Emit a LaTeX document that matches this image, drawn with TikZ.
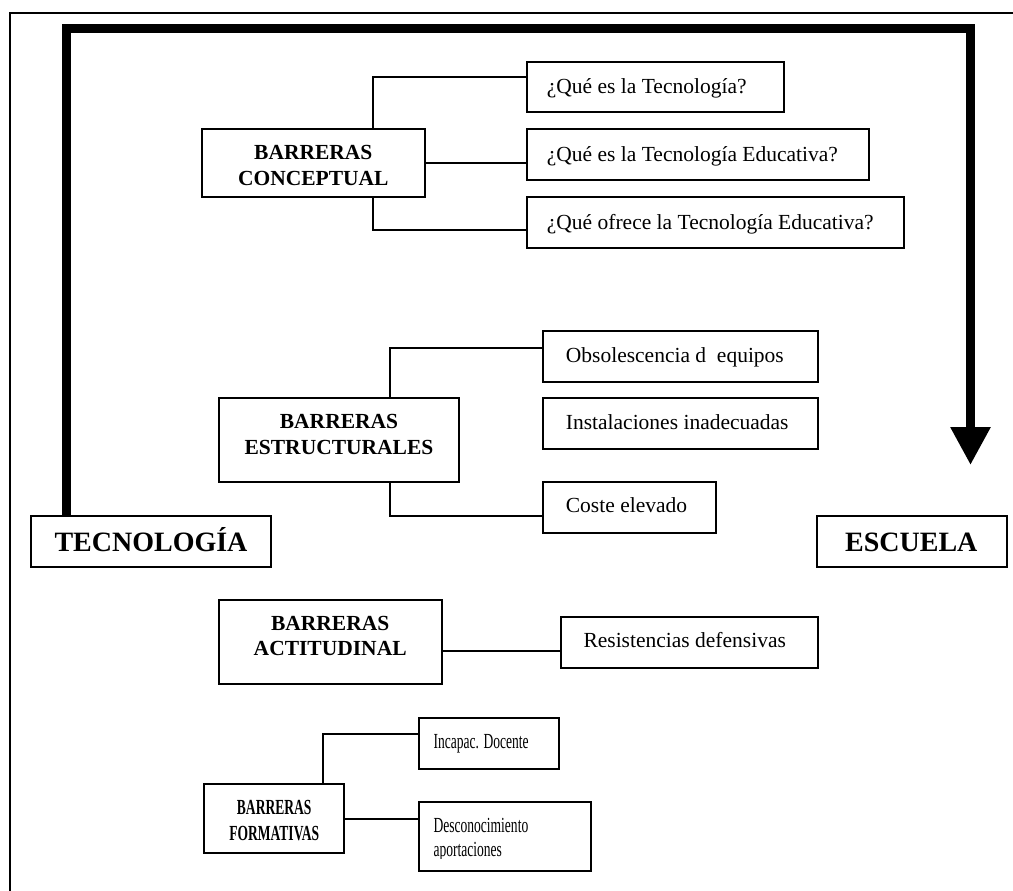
\documentclass[tikz,border=0pt]{standalone}
\usepackage{fontspec}
\setmainfont{Liberation Serif}
\usepackage{graphicx}
\usetikzlibrary{arrows.meta}

\tikzset{
  box/.style={draw, rectangle, line width=1.8pt, inner sep=0pt, outer sep=0pt},
  link/.style={line width=1.8pt},
  body/.style={inner sep=0pt, font=\fontsize{21.5}{24}\selectfont},
  head/.style={inner sep=0pt, align=center, font=\fontsize{21.5}{25.5}\selectfont\bfseries},
  big/.style={inner sep=0pt, font=\fontsize{28}{32}\selectfont\bfseries},
  flow/.style={line width=9pt, line join=miter, -{Triangle[width=38pt,length=38pt]}},
}
\newcommand\narrow[1]{\scalebox{0.63}[1]{#1}}

\begin{document}
\begin{tikzpicture}[x=1pt,y=-1pt]
\useasboundingbox (0,0) rectangle (1013,891);

% outer frame (open at right and bottom)
\draw[line width=2.2pt] (1013,12.7) -- (10,12.7) -- (10,891);

% ---------- boxes ----------
\node[box, minimum width=240pt,   minimum height=51pt]   (tec)  at (151,541.5)   {};
\node[box, minimum width=190pt,   minimum height=51pt]   (esc)  at (911.7,541.5) {};

\node[box, minimum width=223.3pt, minimum height=67.4pt] (conc) at (313.3,163)   {};
\node[box, minimum width=257.3pt, minimum height=50pt]   (qt1)  at (655.3,86.7)  {};
\node[box, minimum width=342.3pt, minimum height=50.7pt] (qt2)  at (698.2,154.7) {};
\node[box, minimum width=377pt,   minimum height=51.6pt] (qt3)  at (715.5,222.5) {};

\node[box, minimum width=240.6pt, minimum height=84.3pt] (estr) at (339,440.2)   {};
\node[box, minimum width=274.7pt, minimum height=50.7pt] (obs)  at (680.3,356.3) {};
\node[box, minimum width=275pt,   minimum height=51pt]   (inst) at (680.5,423.5) {};
\node[box, minimum width=173pt,   minimum height=51pt]   (cost) at (629.5,507.5) {};

\node[box, minimum width=223pt,   minimum height=84pt]   (act)  at (330.2,642)   {};
\node[box, minimum width=256.7pt, minimum height=51pt]   (res)  at (689.3,642.2) {};

\node[box, minimum width=139.7pt, minimum height=69pt]   (form) at (274.2,818.8) {};
\node[box, minimum width=140pt,   minimum height=51pt]   (inc)  at (489.3,743.8) {};
\node[box, minimum width=171.7pt, minimum height=69pt]   (desc) at (505.2,836.2) {};

% ---------- texts (multi-line nodes sit on their last baseline) ----------
\node[big, anchor=base] at (151,551.7)   {TECNOLOGÍA};
\node[big, anchor=base] at (911.3,551.7) {ESCUELA};

\node[head, anchor=base] at (313.3,185) {BARRERAS\\CONCEPTUAL};
\node[body, anchor=base west] at (546.7,93.3)  {¿Qué es la Tecnología?};
\node[body, anchor=base west] at (546.7,161.7) {¿Qué es la Tecnología Educativa?};
\node[body, anchor=base west] at (546.7,229)   {¿Qué ofrece la Tecnología Educativa?};

\node[head, anchor=base] at (339,454) {BARRERAS\\ESTRUCTURALES};
\node[body, anchor=base west] at (565.7,362.3) {Obsolescencia d\ \ equipos};
\node[body, anchor=base west] at (565.7,429)   {Instalaciones inadecuadas};
\node[body, anchor=base west] at (565.7,512.7) {Coste elevado};

\node[head, anchor=base] at (330.2,655.7) {BARRERAS\\ACTITUDINAL};
\node[body, anchor=base west] at (583.3,647.7) {Resistencias defensivas};

\node[head, anchor=base] at (274.2,840) {\narrow{BARRERAS}\\\narrow{FORMATIVAS}};
\node[body, anchor=base west] at (433.3,748) {\narrow{Incapac. Docente}};
\begin{scope}
  \clip (419,800) rectangle (592,858);
  \node[body, anchor=base west, align=left] at (433.3,856.7)
    {\narrow{Desconocimiento}\\\narrow{aportaciones}};
\end{scope}

% ---------- connectors ----------
\draw[link] ([xshift=60pt]conc.north) |- ([yshift=9.4pt]qt1.west);
\draw[link] (conc.east) -- (conc.east -| qt2.west);
\draw[link] ([xshift=60pt]conc.south) |- ([yshift=-7.5pt]qt3.west);

\draw[link] ([xshift=51pt]estr.north) |- ([yshift=8.3pt]obs.west);
\draw[link] ([xshift=51pt]estr.south) |- ([yshift=-8.2pt]cost.west);

\draw[link] ([yshift=-9pt]act.east) -- ([yshift=-9pt]act.east -| res.west);

\draw[link] ([xshift=48.5pt]form.north) |- ([yshift=9.5pt]inc.west);
\draw[link] (form.east) -- (form.east -| desc.west);

% ---------- main flow arrow ----------
\coordinate (turn) at (970.5,28.5);
\coordinate (tip)  at (970.5,465);
\draw[flow] ([xshift=35pt]tec.north west) |- (turn) -- (tip);
\end{tikzpicture}
\end{document}
